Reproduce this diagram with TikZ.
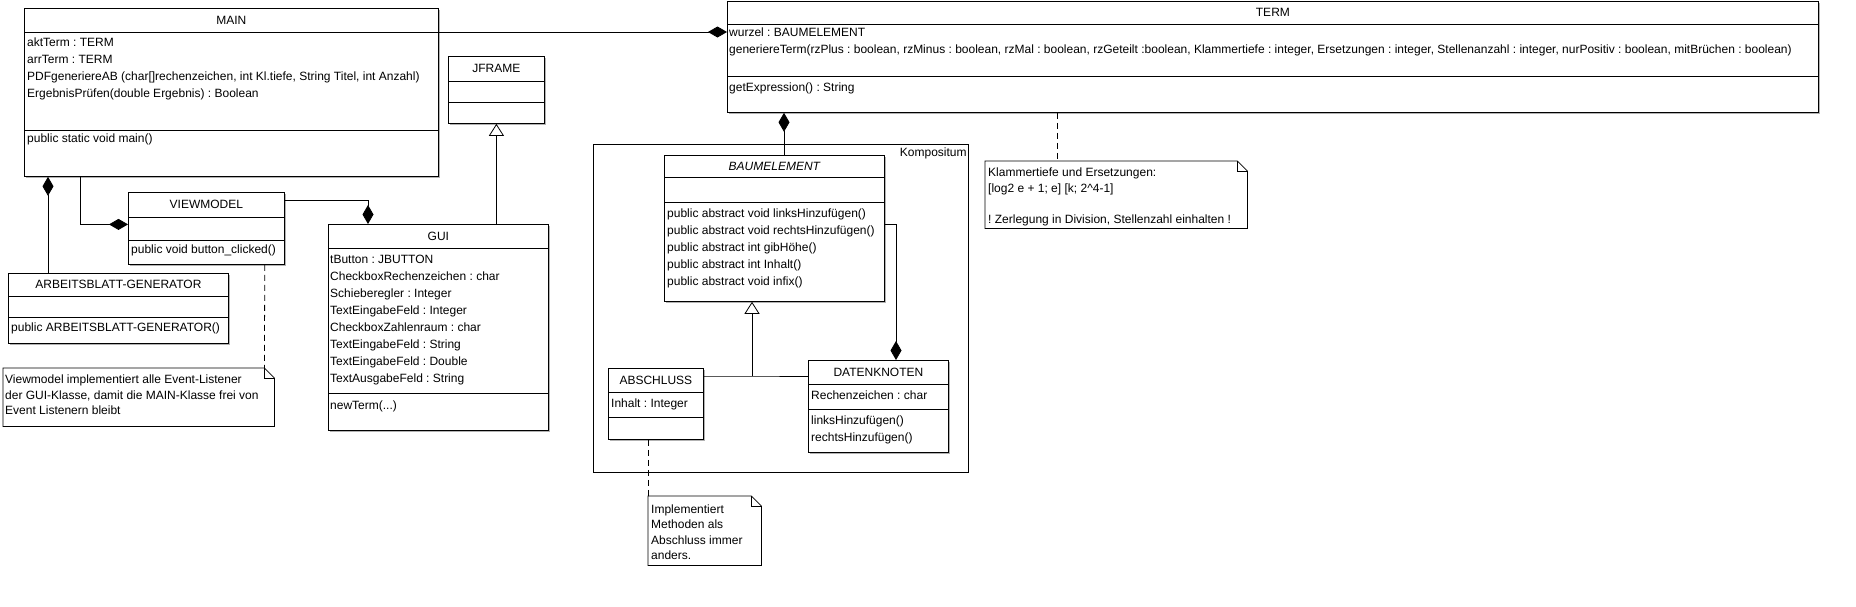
\documentclass[tikz,border=0pt]{standalone}
\usepackage{fontspec}
\setmainfont{Liberation Sans}
\usepackage{tikz}
\usetikzlibrary{arrows.meta}
\usetikzlibrary{shadows}
\frenchspacing
\tikzstyle{Class}=[draw,line width=.8pt,fill=white,anchor=north west,inner sep=0pt,
drop shadow={shadow xshift=1.5pt,shadow yshift=-1.5pt,fill=black!30,opacity=1}]
\tikzstyle{Div}=[line width=.8pt]
\tikzstyle{Title}=[font=\fontsize{12}{17}\selectfont,inner sep=0pt]
\tikzstyle{Txt}=[font=\fontsize{12}{17}\selectfont,align=left,anchor=base west,inner sep=0pt]
\tikzstyle{NoteTxt}=[font=\fontsize{12}{15.5}\selectfont,align=left,anchor=base west,inner sep=0pt]
\tikzstyle{NoteBox}=[anchor=north west,inner sep=0pt]
\tikzstyle{Edge}=[line width=.8pt]
\tikzstyle{Comp}=[-{Diamond[length=19pt,width=11pt]}]
\tikzstyle{CompS}=[{Diamond[length=19pt,width=11pt]}-]
\tikzstyle{Inher}=[-{Triangle[open,length=12pt,width=15pt,fill=white]}]
\tikzstyle{Dash}=[line width=.8pt,dash pattern=on 6pt off 4pt]
\begin{document}
\begin{tikzpicture}[x=1pt,y=-1pt]
        \useasboundingbox (0,0) rectangle (1856,606);
        % Kompositum
        \node[draw,line width=.8pt,anchor=north west,inner sep=0pt,minimum width=375pt,minimum height=328pt](komp)at(593,144){};
        \node[Title,anchor=north east](kompT)at([xshift=-2pt,yshift=-4pt]komp.north east){Kompositum};
        % classes
        \node[Class,minimum width=414pt,minimum height=168pt](main)at(24,8){};
        \node[Class,minimum width=1091pt,minimum height=111pt](term)at(727,1){};
        \node[Class,minimum width=96pt,minimum height=67pt](jframe)at(448,56){};
        \node[Class,minimum width=220pt,minimum height=206pt](gui)at(328,224){};
        \node[Class,minimum width=156pt,minimum height=72pt](view)at(128,192){};
        \node[Class,minimum width=220pt,minimum height=70pt](arb)at(8,273){};
        \node[Class,minimum width=220pt,minimum height=146pt](baum)at(664,155){};
        \node[Class,minimum width=95pt,minimum height=71pt](absch)at(608,368){};
        \node[Class,minimum width=140pt,minimum height=92pt](daten)at(808,360){};
        \foreach \n/\a/\b in {main/24/122,term/23/75,jframe/25/46,gui/24/169,view/25/48,
            arb/23/44,baum/22/47,absch/24/49,daten/24/49}{
            \draw[Div]([yshift=-\a pt]\n.north west)--([yshift=-\a pt]\n.north east);
            \draw[Div]([yshift=-\b pt]\n.north west)--([yshift=-\b pt]\n.north east);
        }
        % titles
        \node[Title](mainT)at([yshift=-12pt]main.north){MAIN};
        \node[Title](termT)at([yshift=-11.5pt]term.north){TERM};
        \node[Title](jframeT)at([yshift=-12.5pt]jframe.north){JFRAME};
        \node[Title](guiT)at([yshift=-12pt]gui.north){GUI};
        \node[Title](viewT)at([yshift=-12.5pt]view.north){VIEWMODEL};
        \node[Title](arbT)at([yshift=-11.5pt]arb.north){ARBEITSBLATT-GENERATOR};
        \node[Title,font=\fontsize{12}{17}\selectfont\itshape](baumT)at([yshift=-11pt]baum.north){BAUMELEMENT};
        \node[Title](abschT)at([yshift=-12pt]absch.north){ABSCHLUSS};
        \node[Title](datenT)at([yshift=-12pt]daten.north){DATENKNOTEN};
        % members (placed at the baseline of their last line)
        \node[Txt](mainA)at(27,97.5){aktTerm : TERM\\arrTerm : TERM\\
            PDFgeneriereAB (char{[]}rechenzeichen, int Kl.tiefe, String Titel, int Anzahl)\\
            ErgebnisPrüfen(double Ergebnis) : Boolean};
        \node[Txt](mainM)at(27,142.5){public static void main()};
        \node[Txt](termA)at(729,53.5){wurzel : BAUMELEMENT\\
            generiereTerm(rzPlus : boolean, rzMinus : boolean, rzMal : boolean, rzGeteilt :boolean, Klammertiefe : integer, Ersetzungen : integer, Stellenanzahl : integer, nurPositiv : boolean, mitBrüchen : boolean)};
        \node[Txt](termM)at(729,91.5){getExpression() : String};
        \node[Txt](guiA)at(330,382.5){tButton : JBUTTON\\CheckboxRechenzeichen : char\\
            Schieberegler : Integer\\TextEingabeFeld : Integer\\CheckboxZahlenraum : char\\
            TextEingabeFeld : String\\TextEingabeFeld : Double\\TextAusgabeFeld : String};
        \node[Txt](guiM)at(330,409.5){newTerm(...)};
        \node[Txt](viewM)at(131,253.5){public void button\_clicked()};
        \node[Txt](arbM)at(11,331.5){public ARBEITSBLATT-GENERATOR()};
        \node[Txt](baumM)at(667,285.5){public abstract void linksHinzufügen()\\
            public abstract void rechtsHinzufügen()\\public abstract int gibHöhe()\\
            public abstract int Inhalt()\\public abstract void infix()};
        \node[Txt](abschA)at(611,407.5){Inhalt : Integer};
        \node[Txt](datenA)at(811,399.5){Rechenzeichen : char};
        \node[Txt](datenM)at(811,441.5){linksHinzufügen()\\rechtsHinzufügen()};
        % notes
        \node[NoteBox,minimum width=271pt,minimum height=58pt](note1)at(3,368){};
        \node[NoteBox,minimum width=113pt,minimum height=69pt](note2)at(648,496){};
        \node[NoteBox,minimum width=262pt,minimum height=67pt](note3)at(985,161){};
        \foreach \n in {note1,note2,note3}{
            \draw[Div,fill=white](\n.north west)--([xshift=-10pt]\n.north east)
                --([yshift=-10pt]\n.north east)--(\n.south east)--(\n.south west)--cycle;
            \draw[Div]([xshift=-10pt]\n.north east)--([xshift=-10pt,yshift=-10pt]\n.north east)
                --([yshift=-10pt]\n.north east);
        }
        \node[NoteTxt](note1T)at(5,414.5){Viewmodel implementiert alle Event-Listener\\
            der GUI-Klasse, damit die MAIN-Klasse frei von\\Event Listenern bleibt};
        \node[NoteTxt](note2T)at(651,559.5){Implementiert\\Methoden als\\Abschluss immer\\anders.};
        \node[NoteTxt](note3T)at(988,223){Klammertiefe und Ersetzungen:\\
            {[}log2 e + 1; e{]} {[}k; 2\textasciicircum 4-1{]}\\[15.5pt]
            ! Zerlegung in Division, Stellenzahl einhalten !};
        % connectors
        \draw[Edge,Comp]([yshift=-24pt]main.north east)--([yshift=-24pt]main.north east -| term.west);
        \draw[Edge,CompS]([xshift=24pt]main.south west)--([xshift=40pt]arb.north west);
        \draw[Edge,Comp]([xshift=56pt]main.south west)|-([yshift=4pt]view.west);
        \draw[Edge,Comp]([yshift=-8pt]view.north east)-|([xshift=40pt]gui.north west);
        \draw[Edge,Inher](jframe.south |- gui.north)--(jframe.south);
        \draw[Edge,CompS]([xshift=120pt]baum.north west |- term.south)--([xshift=120pt]baum.north west);
        \coordinate(join)at(752,376);
        \draw[Edge](absch.east |- join)--(join)--(daten.west |- join);
        \draw[Edge,Inher](join)--(join |- baum.south);
        \draw[Edge,Comp]([yshift=-69pt]baum.north east)-|([xshift=88pt]daten.north west);
        \draw[Dash]([xshift=-20pt]view.south east)--([xshift=-10pt]note1.north east);
        \draw[Dash]([xshift=40pt]absch.south west)--(note2.north west);
        \draw[Dash]([xshift=72pt]note3.north west |- term.south)--([xshift=72pt]note3.north west);
    \end{tikzpicture}
\end{document}
